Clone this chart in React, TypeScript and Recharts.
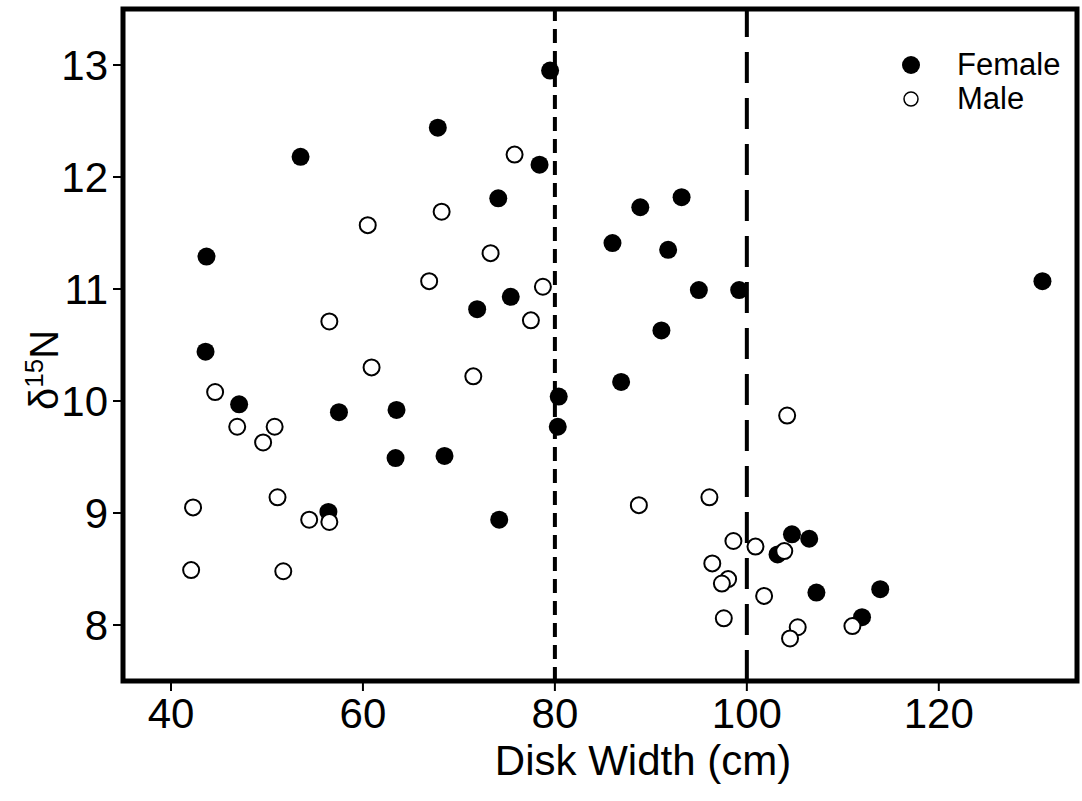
import React from "react";
import {
  ScatterChart,
  Scatter,
  XAxis,
  YAxis,
  ReferenceLine,
  ReferenceArea,
  Legend,
} from "recharts";

const FONT = "'Liberation Sans', Arial, Helvetica, sans-serif";

// disk width (cm) and d15N
const femaleWidth = [
  79.5, 67.8, 53.5, 78.4, 74.1, 43.7, 75.4, 71.9, 43.6, 47.1, 57.5, 63.5, 80.4,
  80.3, 63.4, 68.5, 56.4, 74.2, 130.8, 93.2, 88.9, 86.0, 91.8, 95.0, 99.2, 91.1,
  86.9, 104.7, 106.5, 103.2, 107.25, 113.9, 112.0,
];
const femaleN = [
  12.95, 12.44, 12.18, 12.11, 11.81, 11.29, 10.93, 10.82, 10.44, 9.97, 9.9, 9.92,
  10.04, 9.77, 9.49, 9.51, 9.01, 8.94, 11.07, 11.82, 11.73, 11.41, 11.35, 10.99,
  10.99, 10.63, 10.17, 8.81, 8.77, 8.63, 8.29, 8.32, 8.07,
];

const maleWidth = [
  75.8, 68.2, 60.5, 73.3, 66.9, 78.75, 77.5, 56.5, 60.9, 71.5, 44.6, 46.9, 50.8,
  49.6, 51.1, 42.3, 54.4, 56.5, 42.1, 51.7, 104.2, 88.75, 96.1, 98.6, 100.9,
  103.9, 96.4, 98.05, 97.4, 101.8, 97.6, 111.0, 105.3, 104.5,
];
const maleN = [
  12.2, 11.69, 11.57, 11.32, 11.07, 11.02, 10.72, 10.71, 10.3, 10.22, 10.08, 9.77,
  9.77, 9.63, 9.14, 9.05, 8.94, 8.92, 8.49, 8.48, 9.87, 9.07, 9.14, 8.75, 8.7,
  8.66, 8.55, 8.41, 8.37, 8.26, 8.06, 7.99, 7.98, 7.88,
];

const xTicks = [40, 60, 80, 100, 120];
const yTicks = [8, 9, 10, 11, 12, 13];
const cutoffs = [80, 100];

const X_DOMAIN: [number, number] = [35, 134.4];
const Y_DOMAIN: [number, number] = [7.5, 13.5];

const femaleData = femaleWidth.map((w, i) => ({ x: w, y: femaleN[i] }));
const maleData = maleWidth.map((w, i) => ({ x: w, y: maleN[i] }));

const FemaleDot = (p: any) => <circle cx={p.cx} cy={p.cy} r={9} fill="#000" />;
const MaleDot = (p: any) => (
  <circle cx={p.cx} cy={p.cy} r={8} fill="#fff" stroke="#000" strokeWidth={2} />
);

function NLabel({ viewBox }: any) {
  const cx = viewBox.x + 58;
  const cy = viewBox.y + viewBox.height / 2 + 25;
  return (
    <text
      transform={`translate(${cx},${cy}) rotate(-90)`}
      textAnchor="middle"
      fill="#000"
      fontFamily={FONT}
      fontSize={40}
    >
      δ
      <tspan dy={-15} fontSize={26}>
        15
      </tspan>
      <tspan dy={15} fontSize={40}>
        N
      </tspan>
    </text>
  );
}

const renderLegend = (props: any) => (
  <div style={{ fontFamily: FONT, fontSize: 31, color: "#000" }}>
    {(props.payload || []).map((entry: any) => {
      const male = entry.value === "Male";
      return (
        <div
          key={entry.value}
          style={{ display: "flex", alignItems: "center", height: 34 }}
        >
          <svg width={20} height={20} style={{ marginRight: 36 }}>
            {male ? (
              <circle cx={10} cy={10} r={7} fill="#fff" stroke="#000" strokeWidth={1.5} />
            ) : (
              <circle cx={10} cy={10} r={9} fill="#000" />
            )}
          </svg>
          <span>{entry.value}</span>
        </div>
      );
    })}
  </div>
);

export default function App() {
  return (
    <div style={{ position: "absolute", left: 0, top: 0, background: "#fff" }}>
      <ScatterChart
        width={1082}
        height={801}
        margin={{ top: 9, right: 5, bottom: 0, left: 0 }}
      >
        <XAxis
          type="number"
          dataKey="x"
          domain={X_DOMAIN}
          ticks={xTicks}
          allowDataOverflow
          height={120}
          axisLine={false}
          tickLine={{ stroke: "#000", strokeWidth: 2 }}
          tickSize={10}
          tickMargin={7}
          tick={{ fill: "#000", fontSize: 42, fontFamily: FONT }}
          label={{
            value: "Disk Width (cm)",
            position: "insideBottom",
            offset: 26,
            dx: 43,
            fill: "#000",
            fontSize: 42,
            fontFamily: FONT,
          }}
        />
        <YAxis
          type="number"
          dataKey="y"
          domain={Y_DOMAIN}
          ticks={yTicks}
          interval={0}
          allowDataOverflow
          width={123}
          axisLine={false}
          tickLine={{ stroke: "#000", strokeWidth: 2 }}
          tickSize={10}
          tickMargin={5}
          tick={{ fill: "#000", fontSize: 42, fontFamily: FONT }}
          label={<NLabel />}
        />
        <ReferenceLine
          x={cutoffs[0]}
          stroke="#000"
          strokeWidth={4}
          strokeDasharray="14 8"
        />
        <ReferenceLine
          x={cutoffs[1]}
          stroke="#000"
          strokeWidth={4}
          strokeDasharray="31 15"
        />
        <Legend
          layout="vertical"
          align="center"
          verticalAlign="middle"
          content={renderLegend}
          wrapperStyle={{ left: 901, top: 48, width: 200 }}
        />
        <Scatter
          name="Female"
          data={femaleData}
          fill="#000"
          shape={FemaleDot}
          isAnimationActive={false}
        />
        <Scatter
          name="Male"
          data={maleData}
          fill="#fff"
          stroke="#000"
          shape={MaleDot}
          isAnimationActive={false}
        />
        <ReferenceArea
          x1={X_DOMAIN[0]}
          x2={X_DOMAIN[1]}
          y1={Y_DOMAIN[0]}
          y2={Y_DOMAIN[1]}
          fill="none"
          stroke="#000"
          strokeWidth={5}
        />
      </ScatterChart>
    </div>
  );
}
